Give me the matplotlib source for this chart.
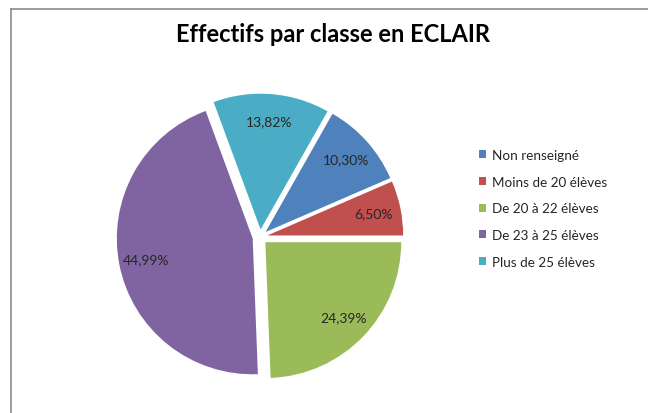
import matplotlib
matplotlib.use("Agg")
import matplotlib.pyplot as plt
from matplotlib.lines import Line2D
from matplotlib.patches import Patch

categories = ["Non renseigné", "Moins de 20 élèves", "De 20 à 22 élèves",
              "De 23 à 25 élèves", "Plus de 25 élèves"]
shares = [10.30, 6.50, 24.39, 44.99, 13.82]
colors = ["#4F81BD", "#C0504D", "#9BBB59", "#8064A2", "#4BACC6"]
title = "Effectifs par classe en ECLAIR"

plt.rcParams["font.family"] = ["Lato", "DejaVu Sans"]

fig = plt.figure(figsize=(6.48, 4.14), dpi=100)
fig.patch.set_facecolor("white")

# chart frame (only top and left edges visible in the crop)
fig.add_artist(Line2D([10.5 / 648, 10.5 / 648], [0, 1 - 9.5 / 414],
                      transform=fig.transFigure, color="#8c8c8c", lw=1.2))
fig.add_artist(Line2D([10.5 / 648, 1], [1 - 9.5 / 414, 1 - 9.5 / 414],
                      transform=fig.transFigure, color="#8c8c8c", lw=1.2))

ax = fig.add_axes([97 / 648, 13 / 414, 326 / 648, 326 / 414])
start = 360 * (shares[0] + shares[1]) / 100.0

wedges, texts, autotexts = ax.pie(
    shares, colors=colors, startangle=start, counterclock=False,
    explode=[0.055] * len(shares), pctdistance=0.8,
    autopct=lambda p: f"{p:.2f}".replace(".", ",") + "%",
    wedgeprops=dict(linewidth=0),
    textprops=dict(fontsize=10, color="#262626"))
ax.set_xlim(-1.2, 1.2)
ax.set_ylim(-1.2, 1.2)
ax.set_aspect("equal")
ax.axis("off")

fig.text(333 / 648, 1 - 34 / 414, title, ha="center", va="center",
         fontsize=17, fontweight="bold", color="black")

handles = [Patch(facecolor=c, edgecolor="none") for c in colors]
fig.legend(handles, categories, loc="upper left",
           bbox_to_anchor=(479 / 648, 1 - 150 / 414), frameon=False,
           fontsize=9.7, handlelength=0.55, handleheight=0.55,
           handletextpad=0.45, labelspacing=1.09, borderpad=0,
           borderaxespad=0, labelcolor="#262626")

fig.savefig("out.png", dpi=100, facecolor="white")
